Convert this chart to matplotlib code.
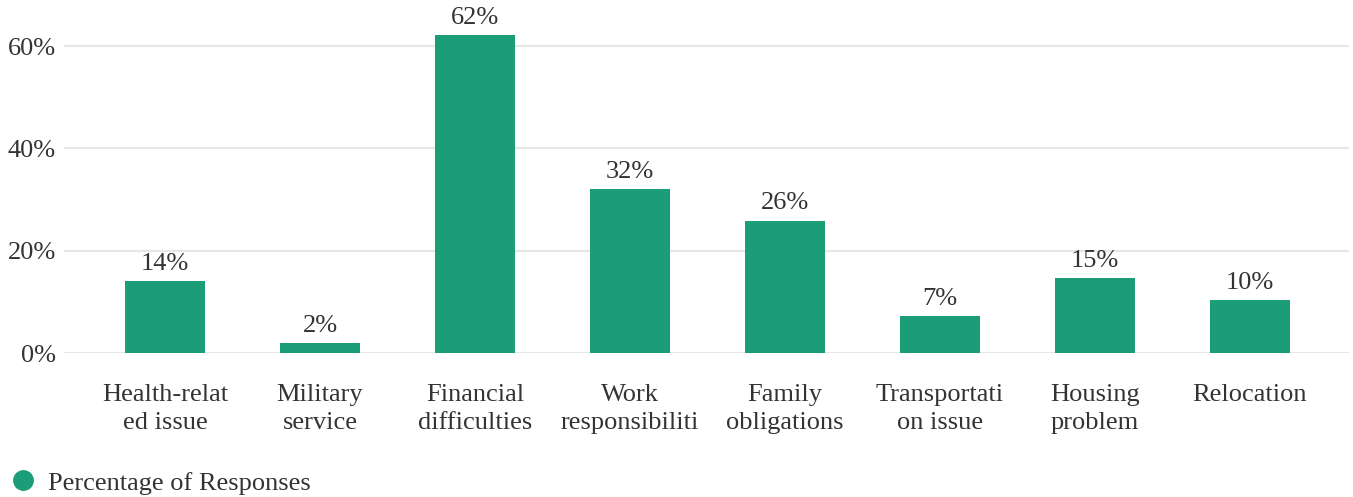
import matplotlib.pyplot as plt
from matplotlib.lines import Line2D
from matplotlib.ticker import FuncFormatter

# dados
categorias = ["Health-relat\ned issue", "Military\nservice", "Financial\ndifficulties",
              "Work\nresponsibiliti", "Family\nobligations", "Transportati\non issue",
              "Housing\nproblem", "Relocation"]
percentuais = [14.1, 2.0, 62.1, 32.1, 25.9, 7.2, 14.6, 10.3]
serie = "Percentage of Responses"

verde = "#1b9e77"
texto = "#333333"

plt.rcParams["font.family"] = ["Liberation Serif", "DejaVu Serif"]

fig = plt.figure(figsize=(13.53, 4.97), dpi=100)
ax = fig.add_axes([0.0473, 0.2897, 0.9497, 0.669])

xs = list(range(len(categorias)))
barras = ax.bar(xs, percentuais, width=0.516, color=verde, zorder=3)

for b, v in zip(barras, percentuais):
    ax.text(b.get_x() + b.get_width() / 2, v + 1.2, f"{round(v)}%",
            ha="center", va="bottom", fontsize=19, color=texto)

ax.set_xlim(-0.652, 7.639)
ax.set_ylim(0, 65)
ax.set_yticks([0, 20, 40, 60])
ax.yaxis.set_major_formatter(FuncFormatter(lambda v, p: f"{v:.0f}%"))
ax.grid(axis="y", color="#e6e6e6", linewidth=1.5, zorder=0)
ax.set_xticks(xs)
ax.set_xticklabels(categorias, fontsize=19, color=texto, linespacing=1.35)
ax.tick_params(axis="x", length=0, pad=22)
ax.tick_params(axis="y", length=0, pad=6, labelsize=19, labelcolor=texto)
for s in ax.spines.values():
    s.set_visible(False)

marca = Line2D([], [], marker="o", linestyle="none", markersize=14, color=verde)
fig.legend([marca], [serie], loc="lower left", bbox_to_anchor=(-0.012, -0.043),
           frameon=False, fontsize=19, handletextpad=0.35, labelcolor=texto,
           handlelength=1.2)

fig.savefig("out.png", dpi=100)
